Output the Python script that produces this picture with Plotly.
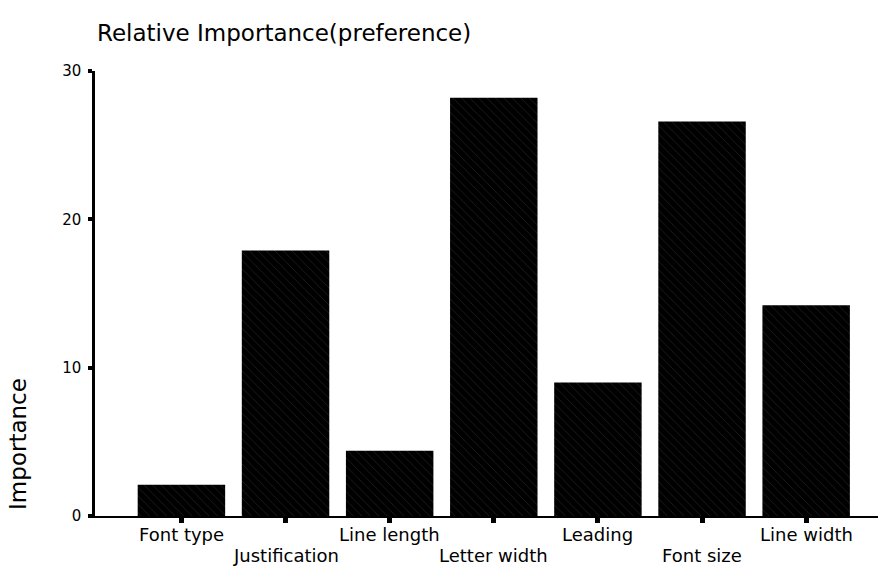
import plotly.graph_objects as go

categories = ["Font type", "Justification", "Line length", "Letter width",
              "Leading", "Font size", "Line width"]
importance = [2.1, 17.9, 4.4, 28.2, 9.0, 26.6, 14.2]
y_ticks = [0, 10, 20, 30]

FONT = "DejaVu Sans"
xs = list(range(len(categories)))

fig = go.Figure()
fig.add_trace(go.Bar(
    x=xs, y=importance, width=0.84,
    marker=dict(color="black", line=dict(width=0),
                pattern=dict(shape="\\", fgcolor="#3c3c3c", bgcolor="black",
                             size=6, solidity=0.15)),
    showlegend=False,
))

# staggered category labels
for i, (xv, lab) in enumerate(zip(xs, categories)):
    fig.add_annotation(x=xv, y=0, xref="x", yref="y", text=lab, showarrow=False,
                       yanchor="top", xanchor="center",
                       yshift=-6 if i % 2 == 0 else -27,
                       font=dict(family=FONT, size=18, color="black"))

fig.add_annotation(text="Importance", xref="paper", yref="paper", x=0, y=0.162,
                   xshift=-77, textangle=-90, showarrow=False,
                   xanchor="center", yanchor="middle",
                   font=dict(family=FONT, size=23, color="black"))

fig.update_layout(
    width=881, height=567,
    margin=dict(l=95, r=3, t=71, b=51, autoexpand=False),
    paper_bgcolor="white", plot_bgcolor="white",
    title=dict(text="Relative Importance(preference)", x=97/881, xanchor="left",
               xref="container", yref="container", y=1 - 33/567, yanchor="middle",
               font=dict(family=FONT, size=23, color="black")),
    xaxis=dict(range=[-0.83, 6.69], tickmode="array", tickvals=xs,
               ticktext=[""] * len(xs), ticks="outside", ticklen=5, tickwidth=5,
               tickcolor="black", showline=True, linecolor="black", linewidth=2,
               showgrid=False, zeroline=False, fixedrange=True),
    yaxis=dict(range=[0, 30], tickmode="array", tickvals=y_ticks,
               ticktext=[str(v) for v in y_ticks], ticks="outside", ticklen=4,
               tickwidth=4, tickcolor="black", showline=True, linecolor="black",
               linewidth=2.5, showgrid=False, zeroline=False, ticklabelstandoff=4,
               tickfont=dict(family=FONT, size=15, color="black")),
)

fig.write_html("out.html", config={"displayModeBar": False},
               post_script="document.body.style.margin='0';document.body.style.overflow='hidden';")
